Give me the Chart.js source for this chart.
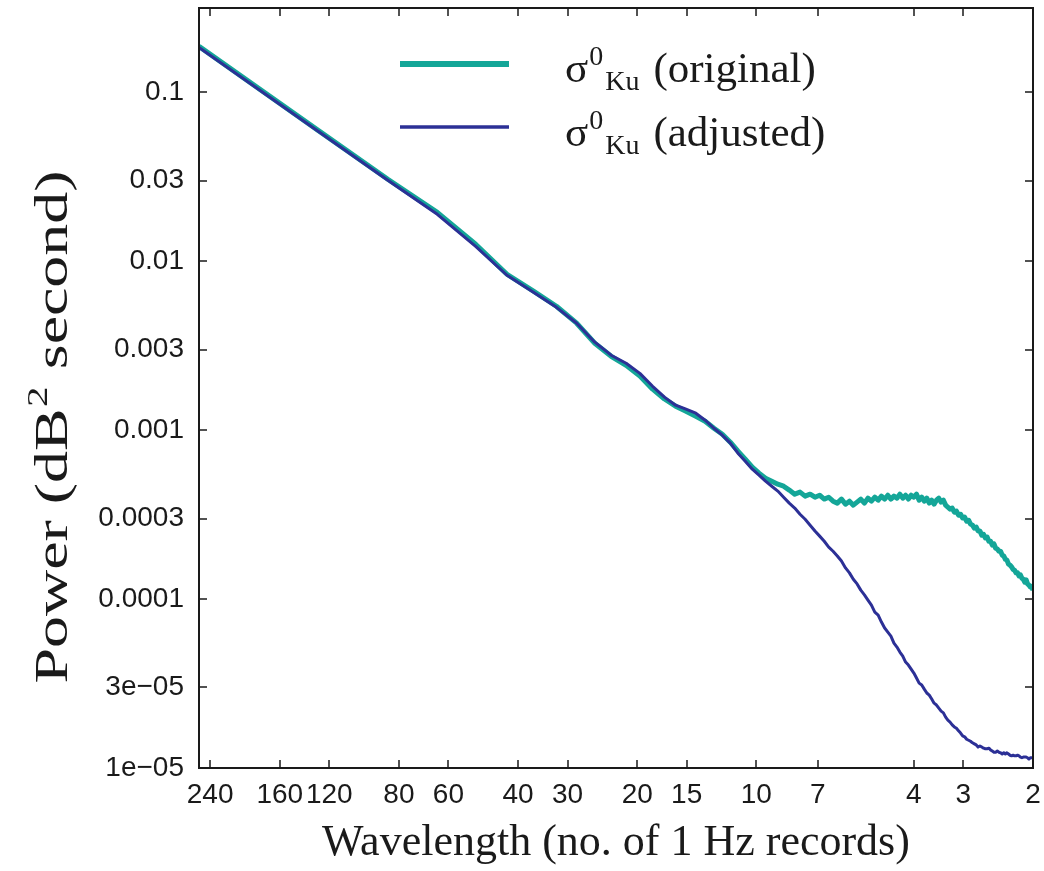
<!DOCTYPE html>
<html>
<head>
<meta charset="utf-8">
<script src="https://cdn.jsdelivr.net/npm/chart.js@4.4.1/dist/chart.umd.min.js"></script>
<style>
  html, body { margin: 0; padding: 0; background: #fff; }
  canvas { display: block; }
</style>
</head>
<body>
<canvas id="psdChart" width="1044" height="871"></canvas>
<script>
// spectra were computed on 256-record segments -> 128 bins
var segmentLength = 256;
var binCount = 128;

var wavelengthTicks = [240, 160, 120, 80, 60, 40, 30, 20, 15, 10, 7, 4, 3, 2];
var powerTicks = [1e-5, 3e-5, 1e-4, 3e-4, 1e-3, 3e-3, 0.01, 0.03, 0.1];
var powerTickLabels = ['1e\u221205', '3e\u221205', '0.0001', '0.0003', '0.001', '0.003', '0.01', '0.03', '0.1'];

// power per bin, bin 1 (longest wavelength) first
var sigmaOriginal = [
  0.1872, 0.0596, 0.0306, 0.01950, 0.01261, 0.00838, 0.00665, 0.00542, 0.00430, 0.00327,
  0.00274, 0.00242, 0.00209, 0.00175, 0.00153, 0.001387, 0.001296, 0.001210, 0.001130, 0.001027,
  0.000947, 0.000849, 0.000751, 0.000674, 0.000604, 0.000557, 0.000520, 0.000499, 0.000479, 0.000466,
  0.000442, 0.000418, 0.000430, 0.000407, 0.000418, 0.000401, 0.000412, 0.000391, 0.000401, 0.000380,
  0.000370, 0.000391, 0.000365, 0.000380, 0.000360, 0.000375, 0.000391, 0.000370, 0.000396, 0.000380,
  0.000401, 0.000385, 0.000407, 0.000391, 0.000412, 0.000391, 0.000407, 0.000396, 0.000418, 0.000396,
  0.000412, 0.000391, 0.000412, 0.000401, 0.000418, 0.000385, 0.000401, 0.000380, 0.000396, 0.000370,
  0.000385, 0.000365, 0.000385, 0.000396, 0.000375, 0.000385, 0.000360, 0.000350, 0.000341, 0.000346,
  0.000327, 0.000332, 0.000314, 0.000318, 0.000302, 0.000306, 0.000289, 0.000293, 0.000278, 0.000274,
  0.000263, 0.000267, 0.000253, 0.000253, 0.000239, 0.000242, 0.000230, 0.000233, 0.000220, 0.000220,
  0.000209, 0.000212, 0.000200, 0.000198, 0.000192, 0.000192, 0.000182, 0.000180, 0.000172, 0.000170,
  0.000161, 0.000159, 0.000155, 0.000150, 0.000148, 0.000143, 0.000143, 0.000137, 0.000139, 0.000133,
  0.000131, 0.000126, 0.000130, 0.000123, 0.000121, 0.000118, 0.000119, 0.000113
];

var sigmaAdjusted = [
  0.1846, 0.0588, 0.0302, 0.01897, 0.01227, 0.00827, 0.00656, 0.00534, 0.00430, 0.00332,
  0.00278, 0.00249, 0.00217, 0.00182, 0.00157, 0.001406, 0.001331, 0.001261, 0.001146, 0.001027,
  0.000934, 0.000838, 0.000731, 0.000655, 0.000588, 0.000542, 0.000499, 0.000466, 0.000436, 0.000401,
  0.000370, 0.000346, 0.000318, 0.000297, 0.000274, 0.000253, 0.000236, 0.000220, 0.000203, 0.000192,
  0.000180, 0.000168, 0.000153, 0.000143, 0.000131, 0.000123, 0.000113, 0.000106, 0.0000987, 0.0000922,
  8.38e-5, 8.04e-5, 7.31e-5, 6.74e-5, 6.38e-5, 6.04e-5, 5.49e-5, 5.20e-5, 4.86e-5, 4.60e-5,
  4.24e-5, 4.07e-5, 3.85e-5, 3.65e-5, 3.41e-5, 3.18e-5, 3.10e-5, 2.93e-5, 2.78e-5, 2.70e-5,
  2.56e-5, 2.42e-5, 2.36e-5, 2.26e-5, 2.17e-5, 2.12e-5, 2.00e-5, 1.92e-5, 1.87e-5, 1.80e-5,
  1.75e-5, 1.72e-5, 1.66e-5, 1.61e-5, 1.55e-5, 1.53e-5, 1.48e-5, 1.46e-5, 1.44e-5, 1.41e-5,
  1.39e-5, 1.37e-5, 1.33e-5, 1.35e-5, 1.33e-5, 1.31e-5, 1.30e-5, 1.30e-5, 1.31e-5, 1.28e-5,
  1.26e-5, 1.24e-5, 1.24e-5, 1.26e-5, 1.24e-5, 1.23e-5, 1.21e-5, 1.23e-5, 1.21e-5, 1.23e-5,
  1.21e-5, 1.19e-5, 1.18e-5, 1.19e-5, 1.18e-5, 1.18e-5, 1.19e-5, 1.18e-5, 1.16e-5, 1.15e-5,
  1.16e-5, 1.16e-5, 1.16e-5, 1.15e-5, 1.13e-5, 1.15e-5, 1.15e-5, 1.15e-5
];

// wavelength (in records) of each bin
var wavelengths = [];
for (var k = 1; k <= binCount; k++) {
    wavelengths.push(segmentLength / k);
}

function toPoints(values) {
    return values.map(function (v, i) {
        return { x: wavelengths[i], y: v };
    });
}

var serif = '"Liberation Serif", "Times New Roman", serif';
var ink = '#1a1a1a';

// sigma^0_Ku label with super/subscript
function drawSigma(ctx, x, y, tail) {
    ctx.textAlign = 'left';
    ctx.textBaseline = 'alphabetic';
    ctx.font = '43px ' + serif;
    ctx.fillText('\u03c3', x, y);
    x += ctx.measureText('\u03c3').width + 1;
    ctx.font = '28px ' + serif;
    ctx.fillText('0', x, y - 17);
    x += ctx.measureText('0').width + 2;
    ctx.fillText('Ku', x, y + 8);
    x += ctx.measureText('Ku').width + 14;
    ctx.font = '43px ' + serif;
    ctx.fillText(tail, x, y);
}

var framePlugin = {
    id: 'frame',
    afterDatasetsDraw: function (chart) {
        var ctx = chart.ctx;
        var a = chart.chartArea;
        var xs = chart.scales.x;
        var ys = chart.scales.y;
        ctx.save();

        // box
        ctx.strokeStyle = ink;
        ctx.lineWidth = 2;
        ctx.strokeRect(a.left, a.top, a.right - a.left, a.bottom - a.top);

        // inward ticks on all four sides
        ctx.lineWidth = 1.5;
        ctx.beginPath();
        wavelengthTicks.forEach(function (w) {
            var px = Math.round(xs.getPixelForValue(w));
            ctx.moveTo(px, a.bottom); ctx.lineTo(px, a.bottom - 8);
            ctx.moveTo(px, a.top); ctx.lineTo(px, a.top + 8);
        });
        powerTicks.forEach(function (p) {
            var py = Math.round(ys.getPixelForValue(p));
            ctx.moveTo(a.left, py); ctx.lineTo(a.left + 8, py);
            ctx.moveTo(a.right, py); ctx.lineTo(a.right - 8, py);
        });
        ctx.stroke();

        // legend
        var ds = chart.data.datasets;
        ctx.lineCap = 'butt';
        ctx.strokeStyle = ds[0].borderColor;
        ctx.lineWidth = 6;
        ctx.beginPath(); ctx.moveTo(400, 64); ctx.lineTo(509, 64); ctx.stroke();
        ctx.strokeStyle = ds[1].borderColor;
        ctx.lineWidth = 3.5;
        ctx.beginPath(); ctx.moveTo(400, 127); ctx.lineTo(509, 127); ctx.stroke();
        ctx.fillStyle = ink;
        drawSigma(ctx, 565, 82, '(original)');
        drawSigma(ctx, 565, 146, '(adjusted)');

        // axis titles
        ctx.font = '44px ' + serif;
        ctx.textAlign = 'center';
        ctx.textBaseline = 'alphabetic';
        ctx.fillText('Wavelength (no. of 1 Hz records)', (a.left + a.right) / 2, 855);

        // y title is drawn stretched along its length
        ctx.translate(67, 427);
        ctx.rotate(-Math.PI / 2);
        ctx.scale(1.36, 1);
        ctx.textAlign = 'left';
        ctx.font = '47px ' + serif;
        var w1 = ctx.measureText('Power (dB').width;
        var w3 = ctx.measureText(' second)').width;
        ctx.font = '30px ' + serif;
        var w2 = ctx.measureText('2').width + 2;
        var x0 = -(w1 + w2 + w3) / 2;
        ctx.font = '47px ' + serif;
        ctx.fillText('Power (dB', x0, 0);
        ctx.fillText(' second)', x0 + w1 + w2, 0);
        ctx.font = '30px ' + serif;
        ctx.fillText('2', x0 + w1 + 1, -20);

        ctx.restore();
    }
};

var ctx = document.getElementById('psdChart').getContext('2d');
var myChart = new Chart(ctx, {
    type: 'line',
    data: {
        datasets: [{
            label: 'sigma0 Ku (original)',
            data: toPoints(sigmaOriginal),
            borderColor: 'rgb(20, 166, 152)',
            borderWidth: 5,
            pointRadius: 0,
            fill: false,
            order: 2
        }, {
            label: 'sigma0 Ku (adjusted)',
            data: toPoints(sigmaAdjusted),
            borderColor: 'rgb(44, 48, 150)',
            borderWidth: 3,
            pointRadius: 0,
            fill: false,
            order: 1
        }]
    },
    options: {
        responsive: false,
        animation: false,
        devicePixelRatio: 1,
        parsing: false,
        layout: { padding: { top: 8, right: 11, left: 0, bottom: 0 } },
        plugins: {
            legend: { display: false },
            tooltip: { enabled: false }
        },
        elements: { line: { tension: 0, borderJoinStyle: 'round' } },
        scales: {
            x: {
                type: 'logarithmic',
                reverse: true,
                min: 2,
                max: segmentLength,
                bounds: 'data',
                grid: { display: false, drawTicks: false },
                border: { display: false },
                afterBuildTicks: function (scale) {
                    scale.ticks = wavelengthTicks.map(function (v) { return { value: v }; });
                },
                afterFit: function (scale) {
                    scale.height = 103;
                    scale.paddingLeft = 0;
                    scale.paddingRight = 0;
                },
                ticks: {
                    autoSkip: false,
                    maxRotation: 0,
                    padding: 10,
                    color: ink,
                    font: { family: '"Liberation Sans", Arial, sans-serif', size: 28 },
                    callback: function (value) { return String(value); }
                }
            },
            y: {
                type: 'logarithmic',
                min: 1e-5,
                max: 0.316,
                bounds: 'data',
                grid: { display: false, drawTicks: false },
                border: { display: false },
                afterBuildTicks: function (scale) {
                    scale.ticks = powerTicks.map(function (v) { return { value: v }; });
                },
                afterFit: function (scale) {
                    scale.width = 199;
                    scale.paddingTop = 0;
                    scale.paddingBottom = 0;
                },
                ticks: {
                    autoSkip: false,
                    padding: 15,
                    color: ink,
                    font: { family: '"Liberation Sans", Arial, sans-serif', size: 28 },
                    callback: function (value) {
                        return powerTickLabels[powerTicks.indexOf(value)];
                    }
                }
            }
        }
    },
    plugins: [framePlugin]
});
</script>
</body>
</html>
